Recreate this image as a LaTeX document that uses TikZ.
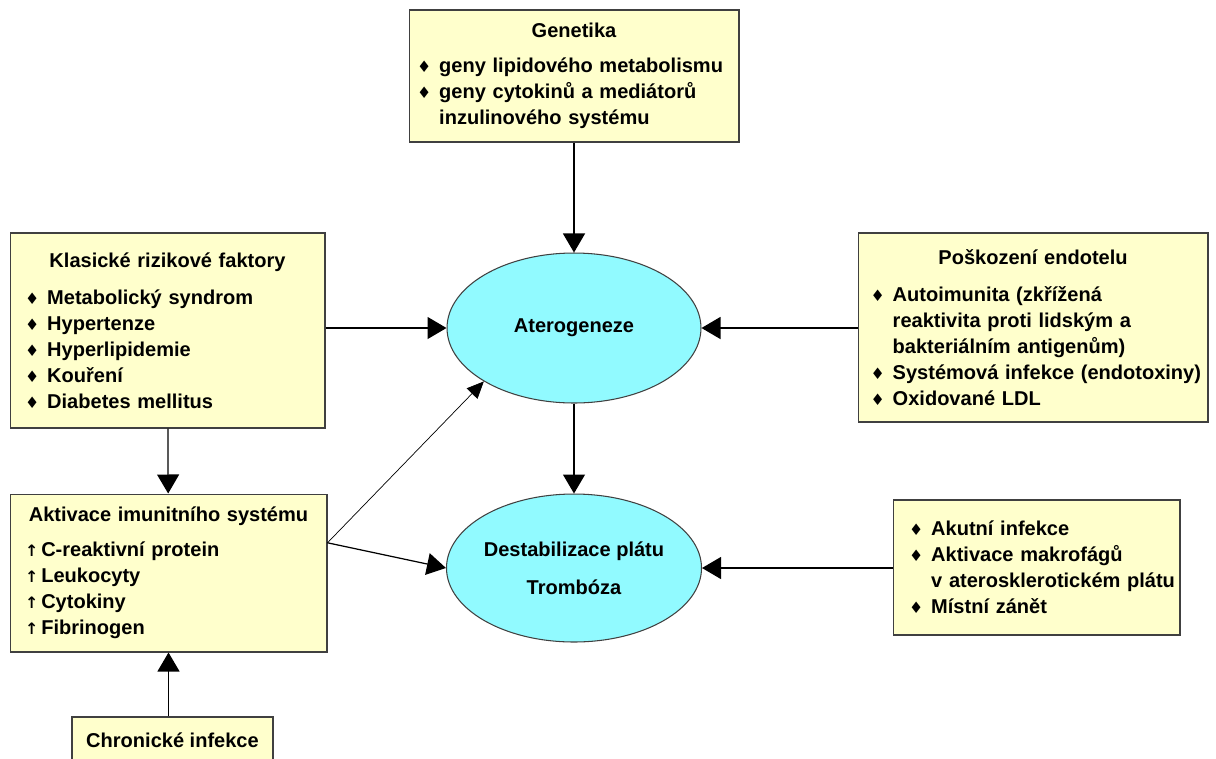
\documentclass[tikz,border=0pt]{standalone}
\usepackage{fontspec}
\setmainfont{Liberation Sans}
\newfontfamily\symfont{DejaVu Sans}
\usetikzlibrary{arrows.meta, shapes.geometric, calc}

\definecolor{boxyellow}{RGB}{255,255,204}
\definecolor{ellcyan}{RGB}{145,250,255}
\newcommand{\bul}{{\symfont\fontsize{9}{9}\selectfont ♦}\hspace{0.4em}}
\newcommand{\rise}{{\symfont\fontsize{9}{9}\selectfont ↑}\hspace{0.15em}}
\newcommand{\entry}[1]{\mbox{\bul #1}}
\newcommand{\hentry}[1]{\mbox{\phantom{\bul}#1}}
\newcommand{\rentry}[1]{\mbox{\rise #1}}

\tikzset{
  box/.style={draw=black!75, line width=0.6pt, fill=boxyellow, inner sep=0pt,
    font=\fontsize{11.4}{14.8}\selectfont\bfseries},
  ell/.style={ellipse, draw=black!75, line width=0.6pt, fill=ellcyan, inner sep=0pt,
    minimum width=5.08cm, minimum height=3cm, align=center,
    font=\fontsize{11.4}{14.8}\selectfont\bfseries},
  conn/.style={-{Triangle[length=0.38cm, width=0.44cm]}, line width=0.7pt},
  thinconn/.style={-{Triangle[length=0.34cm, width=0.3cm]}, line width=0.4pt},
}

\begin{document}
\begin{tikzpicture}[x=0.02cm, y=-0.02cm]
	\useasboundingbox (0,0) rectangle (1216,758);
	% boxes
	\node (gen) at (574, 76) [box, minimum width=6.6cm, minimum height=2.64cm,
        text width=6.28cm] {{\centering Genetika\par}\vspace{5pt}\entry{geny lipidového
        metabolismu}\\ \entry{geny cytokinů a mediátorů}\\ \hentry{inzulinového systému}};
	\node (klas) at (167.5, 330.5) [box, minimum width=6.3cm, minimum height=3.9cm,
        text width=5.7cm] {{\centering Klasické rizikové faktory\par}\vspace{6pt}%
        \entry{Metabolický syndrom}\\ \entry{Hypertenze}\\ \entry{Hyperlipidemie}\\
        \entry{Kouření}\\ \entry{Diabetes mellitus}};
	\node (pos) at (1033, 327.5) [box, minimum width=7cm, minimum height=3.78cm,
        text width=6.5cm] {{\centering Poškození endotelu\par}\vspace{6pt}%
        \entry{Autoimunita (zkřížená}\\ \hentry{reaktivita proti lidským a}\\
        \hentry{bakteriálním antigenům)}\\ \entry{Systémová infekce (endotoxiny)}\\
        \entry{Oxidované LDL}};
	\node (akt) at (168.5, 573) [box, minimum width=6.34cm, minimum height=3.16cm,
        text width=5.74cm] {{\centering Aktivace imunitního systému\par}\vspace{5pt}%
        \rentry{C-reaktivní protein}\\ \rentry{Leukocyty}\\ \rentry{Cytokiny}\\
        \rentry{Fibrinogen}};
	\node (akut) at (1036.5, 567.5) [box, minimum width=5.74cm, minimum height=2.7cm,
        text width=5.1cm] {\entry{Akutní infekce}\\ \entry{Aktivace makrofágů}\\
        \hentry{v aterosklerotickém plátu}\\ \entry{Místní zánět}};
	\node (chron) at (172.5, 740) [box, minimum width=4.02cm, minimum height=0.92cm]
        {Chronické infekce};
	% ellipses
	\node (ater) at (574, 328) [ell] {Aterogeneze};
	\node (destab) at (574, 568) [ell, minimum height=2.96cm]
        {Destabilizace plátu\\[7pt] Trombóza};
	% connectors
	\coordinate (aktout) at ($(akt.north east)!0.31!(akt.south east)$);
	\draw[conn] (gen) -- (ater);
	\draw[conn] (klas.east |- ater) -- (ater);
	\draw[conn] (pos.west |- ater) -- (ater);
	\draw[conn] (ater) -- (destab);
	\draw[conn] (klas) -- (akt);
	\draw[conn] (akt.south |- chron.north) -- (akt.south);
	\draw[thinconn] (aktout) -- (ater.south west);
	\draw[conn] (aktout) -- (destab.west);
	\draw[conn] (akut.west |- destab) -- (destab);
\end{tikzpicture}
\end{document}
